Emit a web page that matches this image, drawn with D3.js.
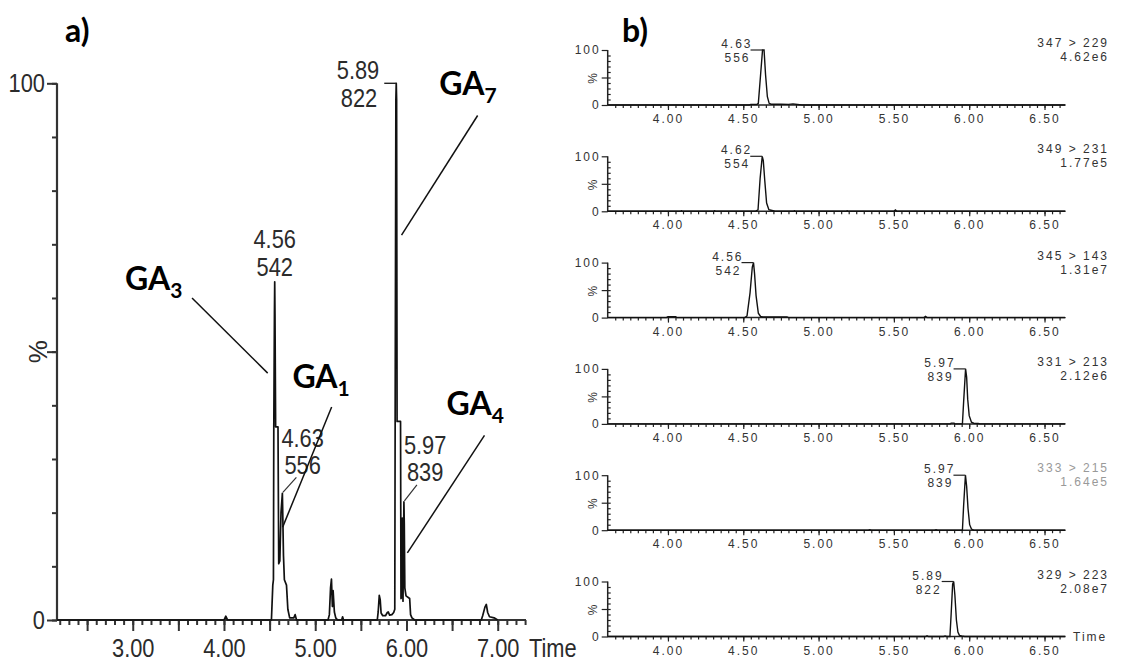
<!DOCTYPE html>
<html>
<head>
<meta charset="utf-8">
<script src="https://cdn.jsdelivr.net/npm/d3@7"></script>
<style>
  body { margin: 0; background: #fff; }
  svg { display: block; }
  .big { font-family: "Liberation Sans", Arial, sans-serif; font-size: 26px; fill: #2b2b2b; }
  .small { font-family: "Liberation Sans", Arial, sans-serif; font-size: 12px; letter-spacing: 2px; fill: #333; }
  .ga { font-family: Lato, "Open Sans", sans-serif; font-weight: bold; font-size: 32px; fill: #000; }
</style>
</head>
<body>
<svg id="chart" width="1121" height="662"></svg>
<script>
// a) total ion chromatogram, [time (min), % of base peak]
const ticTrace = [
  [2.17, 0], [4.00, 0], [4.02, 0.7], [4.04, 0],
  [4.52, 0], [4.535, 6.5], [4.542, 7.5], [4.546, 36], [4.553, 57], [4.556, 63], [4.559, 57], [4.566, 36], [4.592, 36],
  [4.60, 10.5], [4.612, 11], [4.625, 20], [4.64, 23.6], [4.644, 20], [4.652, 12], [4.662, 7.5], [4.685, 6.5],
  [4.70, 2], [4.72, 0.4], [4.765, 0.4], [4.78, 1], [4.795, 0],
  [5.14, 0], [5.155, 1], [5.168, 6], [5.178, 7.6], [5.188, 2.5], [5.196, 5.5], [5.21, 1.5], [5.225, 0.4], [5.245, 0],
  [5.29, 0], [5.30, 0.6], [5.31, 0],
  [5.68, 0], [5.69, 1.5], [5.702, 4.6], [5.712, 3.8], [5.722, 1.3], [5.74, 0.8], [5.77, 0.8], [5.79, 1.4],
  [5.80, 1.5], [5.815, 0.9], [5.84, 1], [5.86, 1.4], [5.872, 2], [5.876, 37], [5.884, 97], [5.888, 100],
  [5.892, 97], [5.897, 37], [5.935, 37], [5.94, 4], [5.948, 4.2], [5.955, 19], [5.962, 3.5], [5.972, 22],
  [5.976, 18], [5.982, 6], [5.995, 4.5], [6.035, 4], [6.045, 1], [6.06, 0.4], [6.09, 0],
  [6.82, 0], [6.835, 0.8], [6.86, 2.4], [6.875, 2.9], [6.89, 1.4], [6.91, 0.6], [6.96, 0.4], [7.00, 0]
];
const ticPeakRt = ["4.56", "4.63", "5.89", "5.97"];
const ticPeakArea = ["542", "556", "822", "839"];
const gaSub = ["3", "1", "7", "4"];
// label anchor and leader line ends, in data units [time, %]
const gaTextAt = [[2.915, 61.5], [4.75, 43.2], [6.36, 97.8], [6.44, 38.2]];
const gaLeader = [
  [[3.65, 60], [4.479, 46]],
  [[5.18, 39.7], [4.643, 17.3]],
  [[6.78, 94], [5.946, 71.7]],
  [[6.855, 34.4], [6.01, 12.5]]
];
const ticMajor = d3.range(5, 15).map(d => d / 2);
const ticMinor = d3.range(22, 74).map(d => d / 10);

// b) MRM channels
const mrmName = ["347 > 229", "349 > 231", "345 > 143", "331 > 213", "333 > 215", "329 > 223"];
const mrmIntensity = ["4.62e6", "1.77e5", "1.31e7", "2.12e6", "1.64e5", "2.08e7"];
const mrmPeakRt = ["4.63", "4.62", "4.56", "5.97", "5.97", "5.89"];
const mrmPeakArea = ["556", "554", "542", "839", "839", "822"];
const mrmColor = ["#333", "#333", "#333", "#333", "#999", "#333"];
const mrmTraces = [
  [[3.6, 0], [4.54, 0], [4.55, 0.8], [4.59, 0.8], [4.60, 3], [4.615, 55], [4.628, 100], [4.638, 100], [4.648, 55],
   [4.66, 15], [4.672, 3], [4.685, 1.5], [4.75, 1.5], [4.80, 1.2], [4.83, 2], [4.86, 1], [4.89, 0], [6.64, 0]],
  [[3.6, 0], [4.08, 0], [4.09, 1], [4.10, 0], [4.30, 0], [4.31, 1], [4.32, 0], [4.58, 0], [4.598, 2.5], [4.612, 60],
   [4.626, 100], [4.633, 92], [4.643, 55], [4.655, 15], [4.67, 3], [4.69, 1.5], [4.71, 0], [4.83, 0], [4.84, 1],
   [4.85, 0], [5.18, 0], [5.19, 1], [5.20, 0], [5.50, 0], [5.51, 2.5], [5.52, 0], [6.64, 0]],
  [[3.6, 0], [3.99, 0], [4.0, 1.5], [4.05, 1.5], [4.06, 0], [4.51, 0], [4.525, 3], [4.545, 45], [4.56, 92],
   [4.568, 100], [4.575, 80], [4.585, 40], [4.60, 8], [4.615, 2], [4.63, 1.2], [4.79, 1.2], [4.80, 0],
   [5.70, 0], [5.71, 2.2], [5.72, 0], [6.64, 0]],
  [[3.6, 0], [5.875, 0], [5.88, 1.5], [5.90, 1.5], [5.905, 0], [5.955, 0], [5.963, 40], [5.976, 100], [5.983, 85],
   [5.99, 45], [6.00, 15], [6.015, 3], [6.03, 1.2], [6.06, 0.8], [6.07, 0], [6.64, 0]],
  [[3.6, 0], [5.33, 0], [5.34, 1], [5.35, 0], [5.77, 0], [5.78, 1], [5.79, 0], [5.955, 0], [5.963, 45],
   [5.975, 100], [5.983, 80], [5.992, 40], [6.003, 10], [6.015, 2], [6.03, 0], [6.64, 0]],
  [[3.6, 0], [5.71, 0], [5.72, 1.5], [5.73, 0], [5.83, 0], [5.84, 1], [5.85, 0], [5.872, 0], [5.88, 40],
   [5.89, 95], [5.897, 100], [5.905, 75], [5.915, 30], [5.925, 8], [5.935, 2], [5.95, 1], [5.97, 0], [6.64, 0]]
];
const mrmMajor = [4.0, 4.5, 5.0, 5.5, 6.0, 6.5];
const mrmMinor = d3.range(73, 133).map(d => d / 20);

const SX = 0.84; // the big labels are a narrow face
const svg = d3.select("#chart");
svg.append("rect").attr("width", 1121).attr("height", 662).attr("fill", "#fff");

const apexOf = (trace, rt) => d3.greatest(trace.filter(d => Math.abs(d[0] - rt) < 0.03), d => d[1]);
const bigText = (g, x, y, s, anchor = "start") =>
  g.append("text").attr("class", "big").attr("text-anchor", anchor)
    .attr("transform", `translate(${x},${y}) scale(${SX},1)`).text(s);
const restyle = (sel, cls) => sel.attr("class", cls).attr("fill", null).attr("font-size", null).attr("font-family", null);

// ---------- a) ----------
const xA = d3.scaleLinear().domain([2.17, 7.31]).range([57, 526]);
const yA = d3.scaleLinear().domain([0, 100]).range([620, 83.3]);
const gA = svg.append("g");

gA.append("g").attr("transform", "translate(0,620)")
  .call(d3.axisBottom(xA).tickValues(ticMinor).tickSize(5).tickFormat(""))
  .call(g => g.select(".domain").remove());
gA.append("g").attr("transform", "translate(0,620)")
  .call(d3.axisBottom(xA).tickValues(ticMajor).tickSize(11).tickPadding(8)
    .tickFormat(d => d % 1 === 0 ? d.toFixed(2) : ""))
  .call(g => g.select(".domain").remove())
  .call(g => restyle(g.selectAll("text"), "big").attr("transform", `scale(${SX},1)`));
gA.append("g").attr("transform", "translate(57,0)")
  .call(d3.axisLeft(yA).tickValues(d3.range(0, 101, 10)).tickSize(5).tickFormat(""))
  .call(g => g.select(".domain").remove());
gA.append("g").attr("transform", "translate(57,0)")
  .call(d3.axisLeft(yA).tickValues([0, 50, 100]).tickSize(10).tickPadding(2)
    .tickFormat(d => d === 50 ? "" : d))
  .call(g => g.select(".domain").remove())
  .call(g => restyle(g.selectAll("text"), "big").attr("x", -12 / SX).attr("transform", `scale(${SX},1)`));
gA.selectAll(".tick line").attr("stroke", "#333").attr("stroke-width", 2);
gA.append("line").attr("x1", 57).attr("x2", 57).attr("y1", yA(100)).attr("y2", yA(0))
  .attr("stroke", "#333").attr("stroke-width", 2.2);
gA.append("line").attr("x1", 56).attr("x2", xA(7.31)).attr("y1", yA(0)).attr("y2", yA(0))
  .attr("stroke", "#333").attr("stroke-width", 2.2);
gA.append("text").attr("class", "big").attr("transform", `translate(47,${yA(50)}) rotate(-90)`)
  .attr("text-anchor", "middle").text("%");
bigText(gA, xA(7.31) + 3, 657, "Time");

gA.append("path").datum(ticTrace)
  .attr("fill", "none").attr("stroke", "#111").attr("stroke-width", 1.7).attr("stroke-linejoin", "round")
  .attr("d", d3.line().x(d => xA(d[0])).y(d => yA(d[1])));

// peak labels: offsets from the apex for both lines, and the leader kind
const ticLabelLayout = [
  { dx: 0, dy1: -34, dy2: -6, anchor: "middle", lead: null },
  { dx: -1, dy1: -46, dy2: -19, anchor: "start", lead: [14, -16] },
  { dx: -17, dy1: -4, dy2: 24, anchor: "end", lead: "bracket" },
  { dx: 0, dy1: -48, dy2: -21, anchor: "start", lead: [13, -17] }
];
ticPeakRt.forEach((rt, i) => {
  const p = apexOf(ticTrace, +rt);
  const px = xA(p[0]), py = yA(p[1]), L = ticLabelLayout[i];
  bigText(gA, px + L.dx, py + L.dy1, rt, L.anchor);
  bigText(gA, px + L.dx + (L.anchor === "end" ? -2 : L.anchor === "start" ? 3 : 0), py + L.dy2, ticPeakArea[i], L.anchor);
  if (L.lead === "bracket") {
    gA.append("path").attr("d", `M${px - 12},${py}H${px}`).attr("stroke", "#222").attr("stroke-width", 1.4).attr("fill", "none");
  } else if (L.lead) {
    gA.append("line").attr("x1", px + L.lead[0]).attr("y1", py + L.lead[1]).attr("x2", px + 0.5).attr("y2", py - 1)
      .attr("stroke", "#333").attr("stroke-width", 1.2);
  }
});

gaSub.forEach((s, i) => {
  const t = gA.append("text").attr("class", "ga")
    .attr("x", xA(gaTextAt[i][0])).attr("y", yA(gaTextAt[i][1]));
  t.append("tspan").text("GA");
  t.append("tspan").attr("dy", 8).attr("font-size", 21).text(s);
  const [a, b] = gaLeader[i];
  gA.append("line").attr("x1", xA(a[0])).attr("y1", yA(a[1])).attr("x2", xA(b[0])).attr("y2", yA(b[1]))
    .attr("stroke", "#111").attr("stroke-width", 1.5);
});

gA.append("text").attr("class", "ga").attr("font-size", 30).attr("x", 65).attr("y", 42).text("a)");
svg.append("text").attr("class", "ga").attr("font-size", 30).attr("x", 622).attr("y", 42).text("b)");

// ---------- b) ----------
const xB = d3.scaleLinear().domain([3.6, 6.636]).range([607.7, 1065]);
mrmTraces.forEach((trace, i) => {
  const top = 50 + 106.3 * i;
  const yB = d3.scaleLinear().domain([0, 100]).range([top + 55, top]);
  const g = svg.append("g");

  g.append("g").attr("transform", `translate(0,${yB(0)})`)
    .call(d3.axisBottom(xB).tickValues(mrmMinor).tickSize(3).tickFormat(""))
    .call(a => a.select(".domain").remove());
  g.append("g").attr("transform", `translate(0,${yB(0)})`)
    .call(d3.axisBottom(xB).tickValues(mrmMajor).tickSize(5).tickPadding(4.5).tickFormat(d => d.toFixed(2)))
    .call(a => a.select(".domain").remove())
    .call(a => restyle(a.selectAll("text"), "small"));
  g.append("g").attr("transform", "translate(607.7,0)")
    .call(d3.axisRight(yB).tickValues(d3.range(10, 100, 10)).tickSize(3).tickFormat(""))
    .call(a => a.select(".domain").remove());
  g.append("g").attr("transform", "translate(607.7,0)")
    .call(d3.axisLeft(yB).tickValues([0, 50, 100]).tickSize(6).tickPadding(1).tickFormat(d => d === 50 ? "" : d))
    .call(a => a.select(".domain").remove())
    .call(a => restyle(a.selectAll("text"), "small"));
  g.selectAll(".tick line").attr("stroke", "#222").attr("stroke-width", 1.2);
  g.append("line").attr("x1", 607.7).attr("x2", 607.7).attr("y1", yB(100)).attr("y2", yB(0))
    .attr("stroke", "#222").attr("stroke-width", 1.5);
  g.append("line").attr("x1", 607).attr("x2", 1065).attr("y1", yB(0)).attr("y2", yB(0))
    .attr("stroke", "#222").attr("stroke-width", 1.5);
  g.append("text").attr("class", "small").attr("transform", `translate(597,${yB(50)}) rotate(-90)`)
    .attr("text-anchor", "middle").text("%");

  g.append("path").datum(trace)
    .attr("fill", "none").attr("stroke", "#111").attr("stroke-width", 1.4)
    .attr("d", d3.line().x(d => xB(d[0])).y(d => yB(d[1])));

  const p = apexOf(trace, +mrmPeakRt[i]);
  const px = xB(p[0]), py = yB(100);
  g.append("path").attr("d", `M${px - 12},${py}H${px}`).attr("stroke", "#222").attr("stroke-width", 1.2).attr("fill", "none");
  g.append("text").attr("class", "small").attr("text-anchor", "end").attr("x", px - 10).attr("y", py - 2).text(mrmPeakRt[i]);
  g.append("text").attr("class", "small").attr("text-anchor", "end").attr("x", px - 12).attr("y", py + 12).text(mrmPeakArea[i]);

  g.append("text").attr("class", "small").attr("text-anchor", "end").style("fill", mrmColor[i])
    .attr("x", 1109).attr("y", top - 3).text(mrmName[i]);
  g.append("text").attr("class", "small").attr("text-anchor", "end").style("fill", mrmColor[i])
    .attr("x", 1109).attr("y", top + 11).text(mrmIntensity[i]);
  if (i === mrmTraces.length - 1) {
    g.append("text").attr("class", "small").attr("x", 1073).attr("y", yB(0) + 4).text("Time");
  }
});
</script>
</body>
</html>
